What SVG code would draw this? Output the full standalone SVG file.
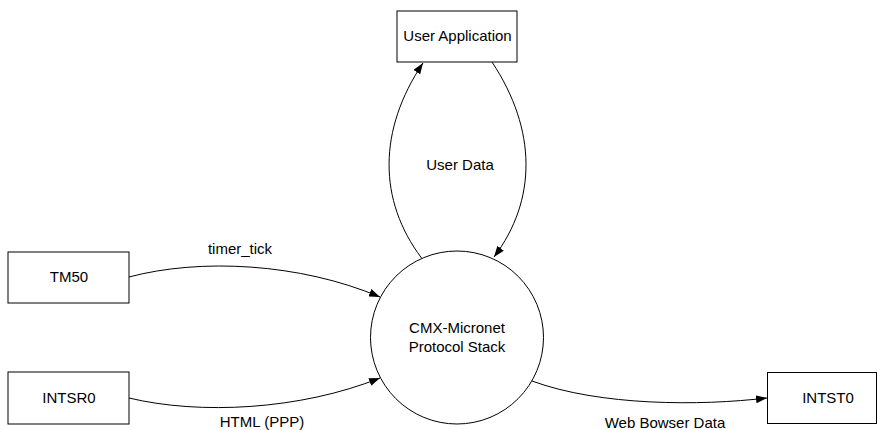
<svg xmlns="http://www.w3.org/2000/svg" width="877" height="430" viewBox="0 0 877 430">
<style>
.box{fill:#fff;stroke:#000;stroke-width:1}
.lbl{font-family:"Liberation Sans",Arial,sans-serif;font-size:15px;fill:#000;text-anchor:middle}
.edge{fill:none;stroke:#000;stroke-width:1}
</style>
<defs>
<marker id="arr" markerWidth="11" markerHeight="8" refX="11" refY="4" orient="auto" markerUnits="userSpaceOnUse">
<path d="M0,0 L11,4 L0,8 Z" fill="#000"/>
</marker>
</defs>
<rect width="877" height="430" fill="#fff"/>
<g id="connectors">
<path class="edge" d="M421.5,258 C378,200 378,130 423,63" marker-end="url(#arr)"/>
<path class="edge" d="M492,62 C537,130 537,200 494,257" marker-end="url(#arr)"/>
<path class="edge" d="M129,277 C200,258 300,263 380,297" marker-end="url(#arr)"/>
<path class="edge" d="M129,398 C200,415 300,410 380,378" marker-end="url(#arr)"/>
<path class="edge" d="M532,381 C600,406 700,406 767,398" marker-end="url(#arr)"/>
<text class="lbl" x="460" y="170">User Data</text>
<text class="lbl" x="240" y="254">timer_tick</text>
<text class="lbl" x="262" y="427">HTML (PPP)</text>
<text class="lbl" x="665" y="428">Web Bowser Data</text>
</g>
<g id="user-application">
<rect class="box" x="397" y="11" width="120" height="51"/>
<text class="lbl" x="457.5" y="41">User Application</text>
</g>
<g id="tm50">
<rect class="box" x="8" y="252" width="121" height="51"/>
<text class="lbl" x="69" y="282">TM50</text>
</g>
<g id="intsr0">
<rect class="box" x="8" y="372" width="121" height="52"/>
<text class="lbl" x="69" y="403">INTSR0</text>
</g>
<g id="intst0">
<rect class="box" x="767.5" y="372.5" width="109" height="51"/>
<text class="lbl" x="828" y="403">INTST0</text>
</g>
<g id="cmx-micronet">
<circle class="box" cx="457" cy="337.5" r="86.5"/>
<text class="lbl" x="457" y="333">CMX-Micronet</text>
<text class="lbl" x="457" y="352">Protocol Stack</text>
</g>
</svg>
